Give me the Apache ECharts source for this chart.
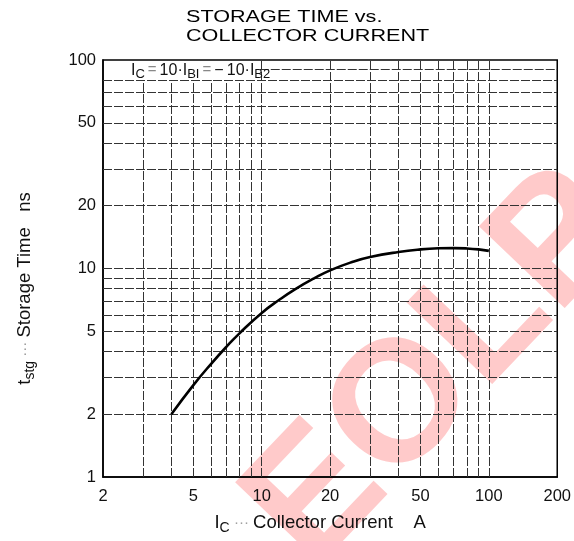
<!DOCTYPE html>
<html>
<head>
<meta charset="utf-8">
<script src="https://cdn.jsdelivr.net/npm/echarts@6/dist/echarts.min.js"></script>
<style>html,body{margin:0;padding:0;background:#fff}#c{width:574px;height:541px}</style>
</head>
<body>
<div id="c"></div>
<script>
// Collector current (A) and storage time (ns)
const currentA = [4, 5, 6, 7, 8, 10, 12, 14, 17, 20, 25, 30, 40, 50, 60, 70, 80, 90, 100];
const storageNs = [2.0, 2.76, 3.5, 4.22, 4.9, 6.12, 7.1, 7.94, 8.97, 9.8, 10.74, 11.35, 12.0, 12.35, 12.5, 12.53, 12.48, 12.35, 12.15];

// Grid lines and tick labels
const xGridValues = [3, 4, 5, 6, 7, 8, 9, 10, 20, 30, 40, 50, 60, 70, 80, 90, 100];
const xLabelValues = [2, 5, 10, 20, 50, 100, 200];
const yGridValues = [2, 3, 4, 5, 6, 7, 8, 9, 10, 20, 30, 40, 50, 60, 70, 80, 90];
const yLabelValues = [1, 2, 5, 10, 20, 50, 100];

// Condition box extent in data space: [xFrom, yFrom, xTo, yTo]
const conditionBox = [2, 80, 9.8, 100];

const titleLine1 = 'STORAGE TIME vs.';
const titleLine2 = 'COLLECTOR CURRENT';

const X_MIN = 2, X_MAX = 200, Y_MIN = 1, Y_MAX = 100;

const FONT = '"Liberation Sans", Arial, Helvetica, sans-serif';
const INK = '#111';

const richAxis = {
  m: { fontSize: 18.5, fontFamily: FONT, color: INK, lineHeight: 24, verticalAlign: 'middle' },
  s: { fontSize: 14, fontFamily: FONT, color: INK, lineHeight: 24, verticalAlign: 'bottom' },
  d: { fontSize: 15, fontFamily: FONT, color: '#a0a0a0', lineHeight: 24, verticalAlign: 'middle' }
};
const richBox = {
  m: { fontSize: 16, fontFamily: FONT, fill: INK, color: INK, lineHeight: 22, verticalAlign: 'middle' },
  s: { fontSize: 13, fontFamily: FONT, fill: INK, color: INK, lineHeight: 22, verticalAlign: 'bottom' },
  d: { fontSize: 15, fontFamily: FONT, fill: '#888', color: '#888', lineHeight: 22, verticalAlign: 'middle' }
};
const boxText = '{m|I}{s|C}{d|\u2009=\u2009}{m|10·I}{s|BI}{d|\u2009=\u2009}{m|−\u200910·I}{s|B2}';

// Grid line segments (data space), leaving the condition box clear
const inBoxX = v => v > conditionBox[0] && v < conditionBox[2];
const inBoxY = v => v > conditionBox[1] && v < conditionBox[3];
const verticalSegments = xGridValues.map(v => ({ coords: [[v, Y_MIN], [v, inBoxX(v) ? conditionBox[1] : Y_MAX]] }));
const horizontalSegments = yGridValues.map(v => ({ coords: [[inBoxY(v) ? conditionBox[2] : X_MIN, v], [X_MAX, v]] }));

const gridLine = { color: '#333', width: 1, type: [9, 2], opacity: 1 };

const chart = echarts.init(document.getElementById('c'), null, { renderer: 'canvas' });
chart.setOption({
  backgroundColor: '#fff',
  animation: false,
  grid: { left: 103, right: 12, top: 60, bottom: 64, show: true, borderColor: '#000', borderWidth: 1.5, backgroundColor: 'transparent' },
  graphic: [
    { type: 'text', left: 186, top: 10, scaleX: 1.35, z: 10,
      style: { text: titleLine1, font: '16px ' + FONT, fill: '#000' } },
    { type: 'text', left: 186, top: 29, scaleX: 1.35, z: 10,
      style: { text: titleLine2, font: '16px ' + FONT, fill: '#000' } },
    { type: 'text', x: 440, y: 370, rotation: 0.81, z: -100, silent: true,
      style: { text: 'EOLP', font: 'bold 172px ' + FONT, fill: '#ffcaca',
               textAlign: 'center', textVerticalAlign: 'middle', align: 'center', verticalAlign: 'middle' } }
  ],
  xAxis: {
    type: 'log', logBase: 10, min: X_MIN, max: X_MAX,
    name: '{m|I}{s|C}{d| ··· }{m|Collector Current    A}',
    nameLocation: 'middle', nameGap: 34,
    nameTextStyle: { rich: richAxis, padding: [0, 20, 0, 0] },
    axisLine: { show: true, lineStyle: { color: '#000', width: 1.5 } },
    axisTick: { show: false, customValues: xLabelValues },
    axisLabel: { customValues: xLabelValues, formatter: v => String(v), fontSize: 16.5, fontFamily: FONT, color: INK, margin: 11 },
    splitLine: { show: false },
    minorSplitLine: { show: false }
  },
  yAxis: {
    type: 'log', logBase: 10, min: Y_MIN, max: Y_MAX,
    name: '{m|t}{s|stg}{d| ··· }{m|Storage Time   ns}',
    nameLocation: 'middle', nameGap: 66,
    nameTextStyle: { rich: richAxis, padding: [0, 40, 0, 0] },
    axisLine: { show: true, lineStyle: { color: '#000', width: 1.5 } },
    axisTick: { show: false, customValues: yLabelValues },
    axisLabel: { customValues: yLabelValues, formatter: v => String(v), fontSize: 16.5, fontFamily: FONT, color: INK, margin: 7 },
    splitLine: { show: false },
    minorSplitLine: { show: false }
  },
  series: [
    {
      type: 'lines', coordinateSystem: 'cartesian2d', z: 1, silent: true,
      polyline: false, effect: { show: false },
      lineStyle: gridLine,
      data: verticalSegments.concat(horizontalSegments)
    },
    {
      // condition label
      type: 'custom', z: 5, silent: true,
      data: [conditionBox],
      encode: { x: [0, 2], y: [1, 3] },
      renderItem: function (params, api) {
        const p0 = api.coord([api.value(0), api.value(3)]);
        const p1 = api.coord([api.value(2), api.value(1)]);
        return { type: 'text', x: p0[0] + 28, y: (p0[1] + p1[1]) / 2,
                 style: { text: boxText, rich: richBox, textVerticalAlign: 'middle', verticalAlign: 'middle', fill: INK } };
      }
    },
    {
      type: 'line',
      z: 6,
      data: currentA.map((x, i) => [x, storageNs[i]]),
      smooth: 0.5,
      symbol: 'none',
      lineStyle: { color: '#000', width: 2.6 }
    }
  ]
});
</script>
</body>
</html>
